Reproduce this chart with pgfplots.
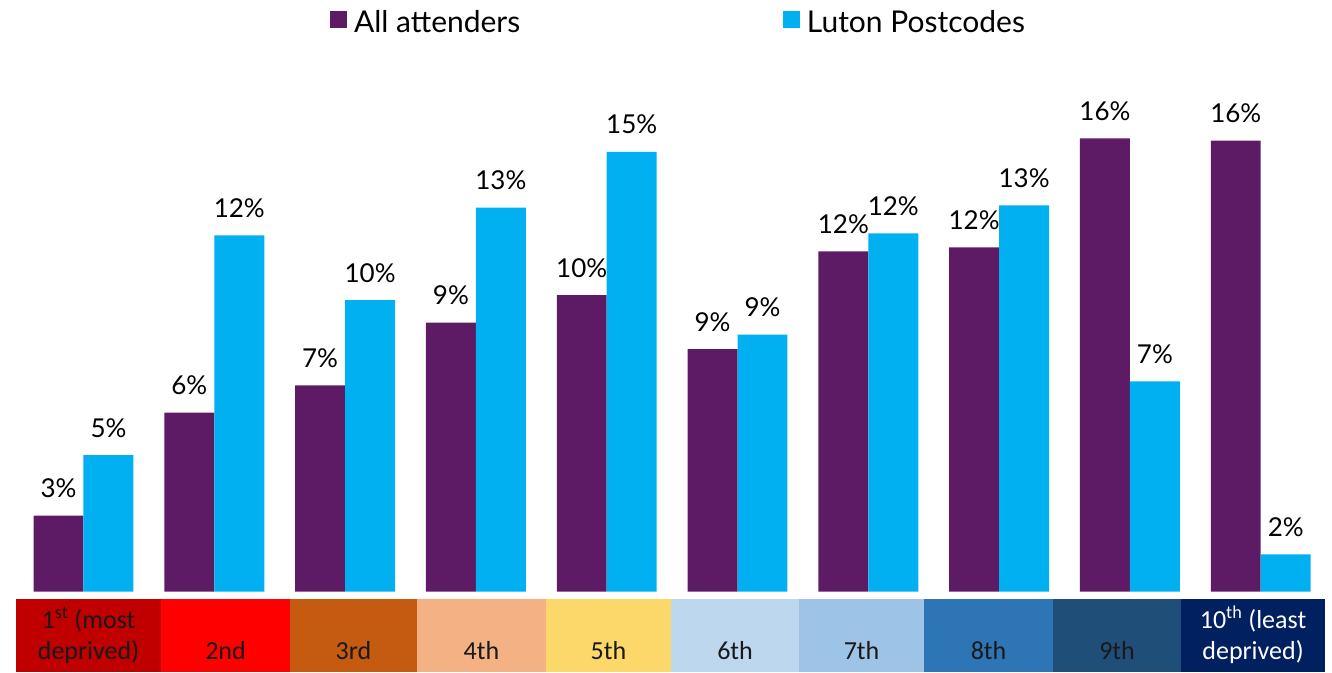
\documentclass[border=0pt]{standalone}
\usepackage{pgfplots}
\pgfplotsset{compat=1.18}
\usepackage{pgfplotstable}
\usepackage{fontspec}
\setmainfont{Lato}
\newfontfamily\stripfont{Carlito}
\definecolor{purp}{HTML}{5E1B65}
\definecolor{cyanb}{HTML}{00B0F0}
\definecolor{s1}{HTML}{C00000}
\definecolor{s2}{HTML}{FF0000}
\definecolor{s3}{HTML}{C55A11}
\definecolor{s4}{HTML}{F4B183}
\definecolor{s5}{HTML}{FCD86A}
\definecolor{s6}{HTML}{BDD7EE}
\definecolor{s7}{HTML}{9DC3E6}
\definecolor{s8}{HTML}{2E75B6}
\definecolor{s9}{HTML}{1F4E79}
\definecolor{s10}{HTML}{002060}

\pgfplotstableread{
x a b la lb
0 2.69 4.83 3 5
1 6.33 12.59 6 12
2 7.29 10.30 7 10
3 9.51 13.57 9 13
4 10.48 15.54 10 15
5 8.57 9.08 9 9
6 12.03 12.66 12 12
7 12.17 13.65 12 13
8 16.02 7.43 16 7
9 15.94 1.32 16 2
}\data

\begin{document}
\begin{tikzpicture}
\useasboundingbox (-12pt,-60.225pt) rectangle (987pt,443.775pt);
\begin{axis}[
  at={(0,0)}, anchor=south west,
  scale only axis, width=982.5pt, height=398.775pt,
  xmin=-0.516, xmax=9.499, ymin=0, ymax=18.788,
  axis line style={draw=none}, ticks=none, clip=false,
  ybar=0pt, bar width=0.382,
  point meta=explicit symbolic,
  nodes near coords={\pgfplotspointmeta\%},
  every node near coord/.append style={font=\fontsize{19.5}{23}\selectfont, anchor=base, inner sep=0pt, yshift=13.5pt, text=black},
  legend columns=2,
  legend style={draw=none, fill=none, at={(0.2397,1.0715)}, anchor=west,
    inner sep=0pt, outer sep=0pt, font=\fontsize{22.5}{26}\selectfont,
    nodes={inner sep=0pt, outer sep=0pt},
    /tikz/every odd column/.append style={column sep=5.5pt},
    /tikz/every even column/.append style={column sep=197pt}},
]
\addplot[fill=purp, draw=none, legend image code/.code={\fill[purp] (0pt,-4.5pt) rectangle (12.5pt,8pt);}]
  table[x=x, y=a, meta=la] {\data};
\addlegendentry{All attenders}
\addplot[fill=cyanb, draw=none, legend image code/.code={\fill[cyanb] (0pt,-4.5pt) rectangle (12.5pt,8pt);}]
  table[x=x, y=b, meta=lb] {\data};
\addlegendentry{Luton Postcodes}

% category strip
\fill[s1]  (axis cs:-0.516,-0.258) rectangle (axis cs:0.5925,-2.84);
\fill[s2]  (axis cs:0.5925,-0.258) rectangle (axis cs:1.5788,-2.84);
\fill[s3]  (axis cs:1.5788,-0.258) rectangle (axis cs:2.5497,-2.84);
\fill[s4]  (axis cs:2.5497,-0.258) rectangle (axis cs:3.5359,-2.84);
\fill[s5]  (axis cs:3.5359,-0.258) rectangle (axis cs:4.4916,-2.84);
\fill[s6]  (axis cs:4.4916,-0.258) rectangle (axis cs:5.4702,-2.84);
\fill[s7]  (axis cs:5.4702,-0.258) rectangle (axis cs:6.4258,-2.84);
\fill[s8]  (axis cs:6.4258,-0.258) rectangle (axis cs:7.4120,-2.84);
\fill[s9]  (axis cs:7.4120,-0.258) rectangle (axis cs:8.3906,-2.84);
\fill[s10] (axis cs:8.3906,-0.258) rectangle (axis cs:9.4916,-2.84);

\begin{scope}[every node/.style={font=\stripfont\fontsize{19.5}{23}\selectfont, anchor=base, inner sep=0pt, text=black!90}]
\node at (axis cs:0.0383,-1.286) {1\textsuperscript{st} (most};
\node at (axis cs:0.0383,-2.413) {deprived)};
\node at (axis cs:1.0857,-2.413) {2nd};
\node at (axis cs:2.0643,-2.413) {3rd};
\node at (axis cs:3.0428,-2.413) {4th};
\node at (axis cs:4.0138,-2.413) {5th};
\node at (axis cs:4.9809,-2.413) {6th};
\node at (axis cs:5.9480,-2.413) {7th};
\node at (axis cs:6.9189,-2.413) {8th};
\node at (axis cs:7.9013,-2.413) {9th};
\node[text=white] at (axis cs:8.9411,-1.286) {10\textsuperscript{th} (least};
\node[text=white] at (axis cs:8.9411,-2.413) {deprived)};
\end{scope}
\end{axis}
\end{tikzpicture}
\end{document}
